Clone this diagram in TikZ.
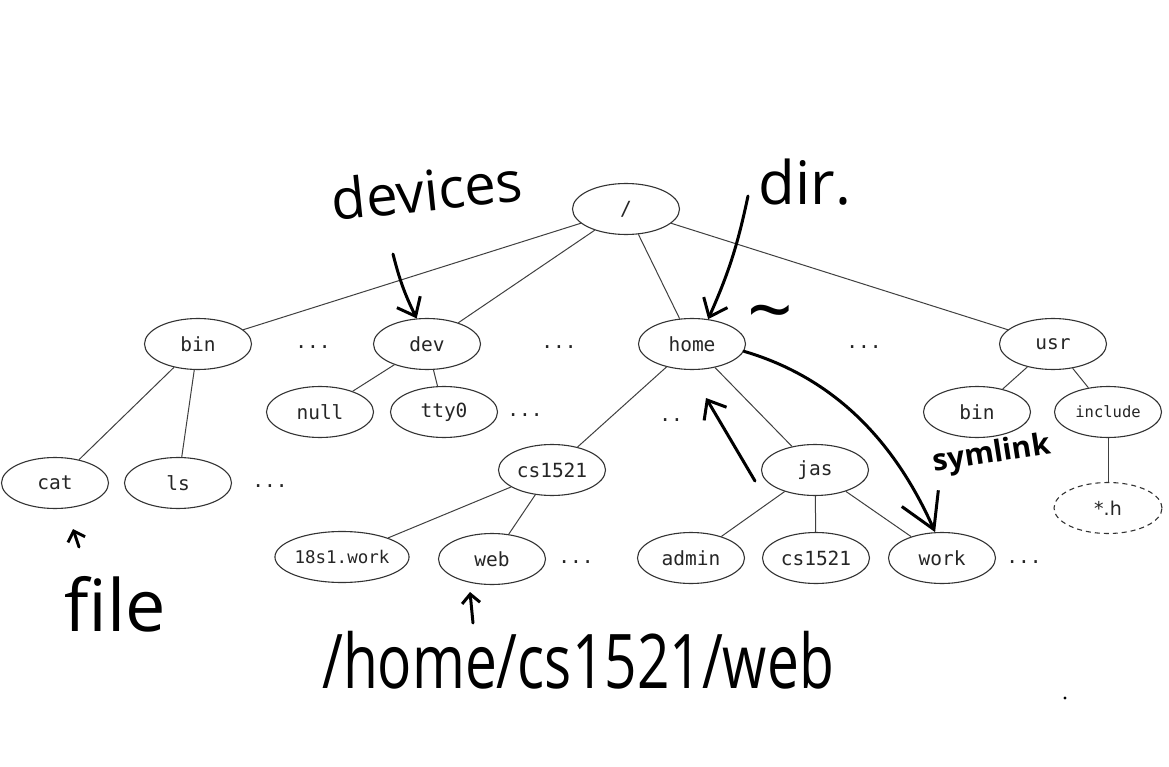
\documentclass[tikz,border=0pt]{standalone}
\usepackage{fontspec}
\setmonofont{DejaVu Sans Mono}
\setsansfont{DejaVu Sans}
\newfontfamily\handfont{Open Sans}
\usetikzlibrary{shapes.geometric,arrows.meta}
\begin{document}
\begin{tikzpicture}[x=1pt,y=-1pt,
  fnode/.style={ellipse,draw=black!80,line width=1.1pt,minimum width=107pt,minimum height=51pt,inner sep=0pt,
    font=\fontsize{19.5}{21}\selectfont\ttfamily,text=black!85},
  tline/.style={draw=black!75,line width=1pt},
  dots/.style={font=\fontsize{19.5}{21}\selectfont\ttfamily,text=black!85,inner sep=0pt},
  ink/.style={line width=3pt,line cap=round,line join=round,black},
  inkarrow/.style={ink,-{Straight Barb[length=16pt,width=26pt]}},
  inksmall/.style={ink,-{Straight Barb[length=9pt,width=18pt]}},
  hand/.style={text=black,inner sep=0pt}]
\useasboundingbox (0,0) rectangle (1169,767);
\fill[white] (0,0) rectangle (1169,767);

% tree nodes
\node[fnode] (root) at (626,209) {/};
\node[fnode] (bin) at (198,344) {bin};
\node[fnode] (dev) at (427,344) {dev};
\node[fnode] (home) at (692,344) {home};
\node[fnode] (usr) at (1053,344) {usr};
\node[fnode] (null) at (320,412) {null};
\node[fnode] (tty) at (444,412) {tty0};
\node[fnode] (cat) at (55,483) {cat};
\node[fnode] (ls) at (178,483) {ls};
\node[fnode] (cs) at (552,470) {cs1521};
\node[fnode] (jas) at (815,470) {jas};
\node[fnode,minimum width=112pt,font=\fontsize{17.5}{19}\selectfont\ttfamily] (work18) at (342,557) {18s1.work};
\node[fnode] (web) at (492,559) {web};
\node[fnode] (admin) at (691,558) {admin};
\node[fnode] (csj) at (816,558) {cs1521};
\node[fnode] (work) at (942,558) {work};
\node[fnode] (ubin) at (977,412) {bin};
\node[fnode,font=\fontsize{15.5}{17}\selectfont\ttfamily] (incl) at (1108,412) {include};
\node[fnode,dashed,dash pattern=on 5pt off 4pt,minimum width=108pt,font=\fontsize{19}{21}\selectfont\sffamily] (hdr) at (1108,508) {*.h};

% ellipses ...
\node[dots] (d1) at (313,347) {...};
\node[dots] (d2) at (559,347) {...};
\node[dots] (d3) at (864,347) {...};
\node[dots] (d4) at (525,415) {...};
\node[dots] (d5) at (270,486) {...};
\node[dots] (d6) at (671,420) {..};
\node[dots] (d7) at (576,562) {...};
\node[dots] (d8) at (1024,562) {...};

% tree edges
\draw[tline] (root) -- (bin);
\draw[tline] (root) -- (dev);
\draw[tline] (root) -- (home);
\draw[tline] (root) -- (usr);
\draw[tline] (bin) -- (cat);
\draw[tline] (bin) -- (ls);
\draw[tline] (dev) -- (null);
\draw[tline] (dev) -- (tty);
\draw[tline] (home) -- (cs);
\draw[tline] (home) -- (jas);
\draw[tline] (cs) -- (work18);
\draw[tline] (cs) -- (web);
\draw[tline] (jas) -- (admin);
\draw[tline] (jas) -- (csj);
\draw[tline] (jas) -- (work);
\draw[tline] (usr) -- (ubin);
\draw[tline] (usr) -- (incl);
\draw[tline] (incl) -- (hdr);

% handwritten annotations
\node[hand,font=\handfont\fontsize{56}{60}\selectfont,rotate=6] (devtxt) at (427,190) {devices};
\node[hand,font=\handfont\fontsize{60}{62}\selectfont] (dirtxt) at (805,182) {dir.};
\node[hand,font=\handfont\fontsize{80}{80}\selectfont] (tilde) at (770,322) {\textasciitilde};
\node[hand,font=\handfont\bfseries\fontsize{30}{32}\selectfont,rotate=9] (symtxt) at (992,455) {symlink};
\node[hand,font=\handfont\fontsize{72}{74}\selectfont] (filetxt) at (115,604) {file};
\node[hand,font=\handfont\fontsize{58}{60}\selectfont] (pathtxt) at (578,660) {\scalebox{0.98}[1.3]{/home/cs1521/web}};

\coordinate (devA) at (393,254);
\coordinate (dirA) at (748,196);
\coordinate (jasA) at (755,481);
\coordinate (homeB) at (706,398);
\coordinate (webA) at (473,623);
\coordinate (webB) at (470,592);
\coordinate (catA) at (79,547);
\coordinate (catB) at (73,529);

\draw[inkarrow] (devA) to[bend right=6] (dev.112);
\draw[inkarrow] (dirA) to[bend left=6] (home.57);
\draw[inkarrow,-{Straight Barb[length=34pt,width=40pt]}] (home.-8) .. controls (835,378) and (895,442) .. (work.105);
\draw[inkarrow] (jasA) -- (homeB);
\draw[inksmall] (webA) -- (webB);
\draw[inksmall] (catA) -- (catB);
\fill (1065,698) circle (1.6pt);
\end{tikzpicture}
\end{document}
